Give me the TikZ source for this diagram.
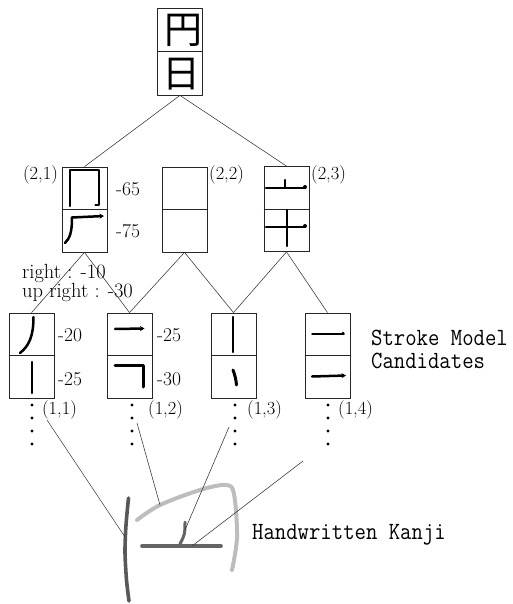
\documentclass[tikz,border=0pt]{standalone}
\usepackage{fontspec}
\usepackage{graphicx}
\newfontfamily\cjk{Noto Sans CJK JP}
\usetikzlibrary{arrows.meta}
\definecolor{hwdark}{HTML}{585858}
\definecolor{hwmid}{HTML}{646464}
\definecolor{hwlight}{HTML}{BDBDBD}
\newcommand{\monotext}[1]{\scalebox{1}[1.12]{\ttfamily\fontsize{22.1}{22}\selectfont #1}}
\begin{document}
\begin{tikzpicture}[x=1pt,y=-1pt,
  box/.style={draw=black!85, line width=0.8pt, minimum width=45pt, minimum height=85pt, inner sep=0pt},
  divline/.style={draw=black!85, line width=0.8pt},
  conn/.style={draw=black!80, line width=0.55pt},
  stk/.style={line width=2.5pt, line cap=round, line join=round},
  tipd/.style={-{Stealth[length=4.5pt,width=5pt]}},
  lbl/.style={font=\fontsize{19.5}{19.5}\selectfont, inner sep=0pt, anchor=base west},
  tup/.style={font=\fontsize{18.5}{18.5}\selectfont, inner sep=0pt, anchor=base west},
  elbl/.style={font=\fontsize{20.5}{20.5}\selectfont, inner sep=0pt, anchor=base west},
  mono/.style={inner sep=0pt, anchor=base west},
  kan/.style={inner sep=0pt, font=\cjk\fontsize{38}{38}\selectfont},
  hw/.style={line width=3.6pt, line cap=round, line join=round},
]
\useasboundingbox (0,0) rectangle (512,604);

% boxes
\node[box, minimum height=87pt] (top) at (180,51.5) {};
\node[box] (b21) at (84.5,209.5) {};
\node[box] (b22) at (184.5,209.5) {};
\node[box] (b23) at (286.5,209) {};
\node[box] (b11) at (31.5,355.5) {};
\node[box] (b12) at (129.5,355.5) {};
\node[box] (b13) at (233.5,355.5) {};
\node[box] (b14) at (327.5,355.5) {};
\foreach \n in {top,b21,b22,b23,b11,b12,b13,b14}
  \draw[divline] (\n.west) -- (\n.east);

% kanji in top box
\node[kan] (k1) at (183,30) {円};
\node[kan] (k2) at (181,74.5) {日};

% tree connectors
\draw[conn] (top.south) -- (b21.north);
\draw[conn] (top.south) -- (b23.north);
\draw[conn] (b21.south) -- (b11.north);
\draw[conn] (b21.south) -- (b12.north);
\draw[conn] (b22.south) -- (b12.north);
\draw[conn] (b22.south) -- (b13.north);
\draw[conn] (b23.south) -- (b13.north);
\draw[conn] (b23.south) -- (b14.north);

% stroke drawings, level 2
\draw[stk] (70,206) -- (70,170) -- (99,170) -- (99,205) -- (95.5,205);
\draw[stk, tipd] (72,217.5) -- (104,216);
\draw[stk] (72,217.5) .. controls (72,232) and (70,238) .. (65,243);
\draw[stk] (266,188) -- (305,188);
\draw[stk] (285,180) -- (285,188);
\fill (305,187) circle (2pt);
\draw[stk] (266,227) -- (305,227);
\fill (305,226) circle (2pt);
\draw[stk] (287,210) -- (287,246);

% stroke drawings, level 1
\draw[stk] (33.5,317) .. controls (33.5,336) and (29,346) .. (20,353);
\draw[stk] (32,362) -- (32,393);
\draw[stk, tipd] (115,329) -- (144.5,328.5);
\draw[stk, line width=3pt] (115,365) -- (143,365) -- (143,387);
\draw[stk] (233,317) -- (233,352);
\draw[stk, line width=3pt] (233,370) .. controls (235,375) and (236,380) .. (236.5,385);
\draw[line width=1.4pt, line cap=round] (312,334) -- (344,334);
\fill (343,333.3) circle (1.6pt);
\draw[stk, tipd] (312,376.5) -- (346,375.5);

% labels
\node[tup] (t21) at (23,179.5) {(2,1)};
\node[tup] (t22) at (209,179.5) {(2,2)};
\node[tup] (t23) at (311,179.5) {(2,3)};
\node[lbl] (s65) at (116,195) {-65};
\node[lbl] (s75) at (116,237) {-75};
\node[lbl] (s20) at (58,341) {-20};
\node[lbl] (s25a) at (58,385) {-25};
\node[lbl] (s25b) at (157,341) {-25};
\node[lbl] (s30) at (157,385) {-30};
\node[elbl] (er) at (22,278) {right : -10};
\node[elbl] (eu) at (22,297.5) {up right : -30};
\node[tup] (t11) at (42,414) {(1,1)};
\node[tup] (t12) at (148,414) {(1,2)};
\node[tup] (t13) at (247,414) {(1,3)};
\node[tup] (t14) at (338,414) {(1,4)};

% vertical dots
\foreach \x in {32,132,235,328}
  \foreach \y in {405,418,431,444}
    \fill (\x,\y) circle (1.7pt);

% right-hand texts
\node[mono] (smc1) at (371,345) {\monotext{Stroke Model}};
\node[mono] (smc2) at (371,368) {\monotext{Candidates}};
\node[mono] (hwk) at (252,539) {\monotext{Handwritten Kanji}};

% handwritten kanji strokes
\draw[hw, hwdark] plot[smooth] coordinates {(128.5,498) (126,525) (125,552) (126.5,580) (129,601)};
\draw[hw, hwlight, line width=4pt] plot[smooth, tension=0.55] coordinates {(137,520) (160,505) (200,490) (226,485) (234,494) (237,537) (232,570)};
\draw[hw, hwmid] (142,546) -- (221,546);
\draw[hw, hwmid, line width=3pt] (185,522) .. controls (185,534) .. (180,544);

% matching lines
\coordinate (h1a) at (47,420);  \coordinate (h1b) at (125,537);
\coordinate (h2a) at (137,423); \coordinate (h2b) at (160,505);
\coordinate (h3a) at (229,427); \coordinate (h3b) at (185,530);
\coordinate (h4a) at (303,461); \coordinate (h4b) at (192,546);
\draw[conn] (h1a) -- (h1b);
\draw[conn] (h2a) -- (h2b);
\draw[conn] (h3a) -- (h3b);
\draw[conn] (h4a) -- (h4b);
\end{tikzpicture}
\end{document}
